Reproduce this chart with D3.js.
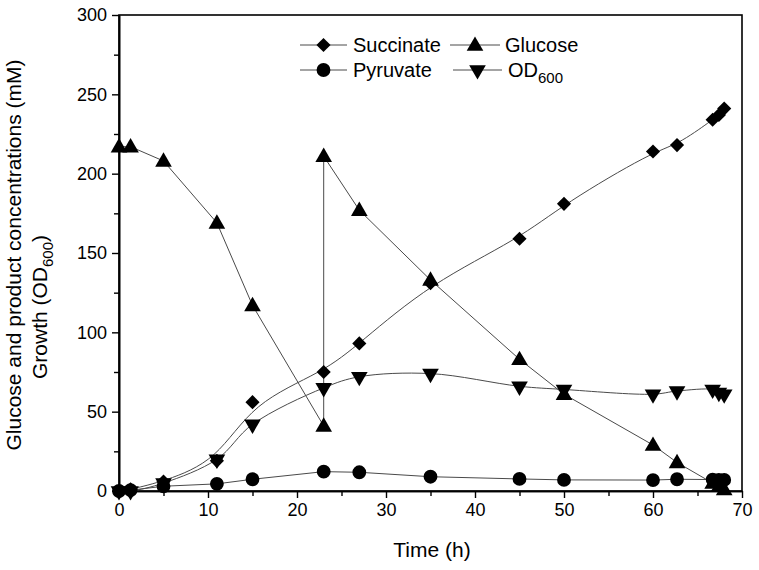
<!DOCTYPE html>
<html><head><meta charset="utf-8">
<script src="https://cdn.jsdelivr.net/npm/d3@7/dist/d3.min.js"></script>
<style>body{margin:0;background:#fff}svg{display:block}text{font-family:"Liberation Sans",Arial,sans-serif;fill:#000}</style>
</head><body><svg id="c" width="759" height="570"></svg>
<script>
const succTime = [0, 1.3, 5, 11, 15, 23, 27, 35, 45, 50, 60, 62.7, 66.7, 67.4, 68];
const succinate = [0, 1, 6, 19, 56, 75, 93, 131, 159, 181, 214, 218, 234, 237, 241];
const glucTime = [0, 1.3, 5, 11, 15, 23, 23, 27, 35, 45, 50, 60, 62.7, 66.7, 67.4, 68];
const glucose = [217, 217, 208, 169, 117, 41, 211, 177, 133, 83, 61, 29, 18, 5, 3, 1];
const pyrTime = [0, 1.3, 5, 11, 15, 23, 27, 35, 45, 50, 60, 62.7, 66.7, 67.4, 68];
const pyruvate = [0, 0.5, 3, 4.5, 7.4, 12.2, 11.8, 9.0, 7.6, 7.0, 6.9, 7.4, 7.2, 7.0, 7.0];
const odTime = [0, 1.3, 5, 11, 15, 23, 27, 35, 45, 50, 60, 62.7, 66.7, 67.4, 68];
const od600 = [0, 0, 5, 20, 42, 65, 72, 74, 66, 64, 61, 63, 64, 62, 61];
const xTicks = [0, 10, 20, 30, 40, 50, 60, 70];
const yTicks = [0, 50, 100, 150, 200, 250, 300];

const svg = d3.select("#c");
const x = d3.scaleLinear().domain([0, 70]).range([119, 742]);
const y = d3.scaleLinear().domain([0, 300]).range([491, 15]);

// frame
svg.append("rect").attr("x", 119).attr("y", 15).attr("width", 623).attr("height", 476)
  .attr("fill", "none").attr("stroke", "#000").attr("stroke-width", 1.6);

// x axis
const gx = svg.append("g").attr("transform", "translate(0,491)");
gx.call(d3.axisBottom(x).tickValues(xTicks).tickSize(7).tickSizeOuter(0).tickPadding(5).tickFormat(d3.format("d")));
gx.append("g").call(d3.axisBottom(x).tickValues(d3.range(5, 70, 10)).tickSize(5).tickSizeOuter(0).tickFormat(""));
// y axis
const gy = svg.append("g").attr("transform", "translate(119,0)");
gy.call(d3.axisLeft(y).tickValues(yTicks).tickSize(7).tickSizeOuter(0).tickPadding(5).tickFormat(d3.format("d")));
gy.append("g").call(d3.axisLeft(y).tickValues(d3.range(25, 300, 50)).tickSize(5).tickSizeOuter(0).tickFormat(""));
svg.selectAll(".domain").attr("stroke", "#000").attr("stroke-width", 1.6);
svg.selectAll(".tick line").attr("stroke", "#000").attr("stroke-width", 1.4);
svg.selectAll(".tick text").attr("font-size", 18).attr("font-family", "Liberation Sans, Arial, sans-serif");

// axis titles
svg.append("text").attr("x", 432).attr("y", 557).attr("text-anchor", "middle").attr("font-size", 21).text("Time (h)");
const yt = svg.append("g").attr("transform", "translate(21,255) rotate(-90)");
yt.append("text").attr("text-anchor", "middle").attr("font-size", 21).text("Glucose and product concentrations (mM)");
const yt2 = yt.append("text").attr("x", -52).attr("y", 26).attr("text-anchor", "middle").attr("font-size", 21);
yt2.append("tspan").text("Growth (OD");
yt2.append("tspan").attr("font-size", 15).attr("dy", 6).text("600");
yt2.append("tspan").attr("dy", -6).text(")");

// symbols
const sym = {
  diamond: d3.symbol().type(d3.symbolSquare).size(100)(),
  circle: d3.symbol().type(d3.symbolCircle).size(150)(),
  up: d3.symbol().type(d3.symbolTriangle).size(120)(),
  down: d3.symbol().type(d3.symbolTriangle).size(120)()
};
function markers(xs, ys, kind) {
  const g = svg.append("g");
  xs.forEach((t, i) => {
    let tr = `translate(${x(t)},${y(ys[i])})`;
    if (kind === "diamond") tr += " rotate(45)";
    if (kind === "down") tr += " rotate(180)";
    if (kind === "up") tr += " translate(0,1)";
    g.append("path").attr("d", sym[kind]).attr("transform", tr).attr("fill", "#000");
  });
}
function series(xs, ys, curve) {
  const pts = xs.map((t, i) => [t, ys[i]]);
  svg.append("path").attr("d", d3.line().x(d => x(d[0])).y(d => y(d[1])).curve(curve)(pts))
    .attr("fill", "none").attr("stroke", "#4a4a4a").attr("stroke-width", 1);
}
series(glucTime, glucose, d3.curveLinear);
series(pyrTime, pyruvate, d3.curveLinear);
series(odTime, od600, d3.curveCatmullRom);
series(succTime, succinate, d3.curveBasis);
markers(glucTime, glucose, "up");
markers(pyrTime, pyruvate, "circle");
markers(odTime, od600, "down");
markers(succTime, succinate, "diamond");

// legend
const legend = [
  {name: "Succinate", kind: "diamond", x1: 300, x2: 347, ty: 45, tx: 353},
  {name: "Glucose", kind: "up", x1: 450, x2: 500, ty: 45, tx: 505},
  {name: "Pyruvate", kind: "circle", x1: 300, x2: 347, ty: 70, tx: 353},
  {name: "OD", sub: "600", kind: "down", x1: 453, x2: 502, ty: 70, tx: 508}
];
legend.forEach(l => {
  svg.append("line").attr("x1", l.x1).attr("x2", l.x2).attr("y1", l.ty).attr("y2", l.ty).attr("stroke", "#4a4a4a").attr("stroke-width", 1);
  let tr = `translate(${(l.x1 + l.x2) / 2},${l.ty})`;
  if (l.kind === "diamond") tr += " rotate(45)";
  if (l.kind === "down") tr += " rotate(180)";
  if (l.kind === "up") tr += " translate(0,1)";
  svg.append("path").attr("d", sym[l.kind]).attr("transform", tr).attr("fill", "#000");
  const t = svg.append("text").attr("x", l.tx).attr("y", l.ty + 7).attr("font-size", 20);
  t.append("tspan").text(l.name);
  if (l.sub) t.append("tspan").attr("font-size", 15).attr("dy", 6).text(l.sub);
});
</script></body></html>
